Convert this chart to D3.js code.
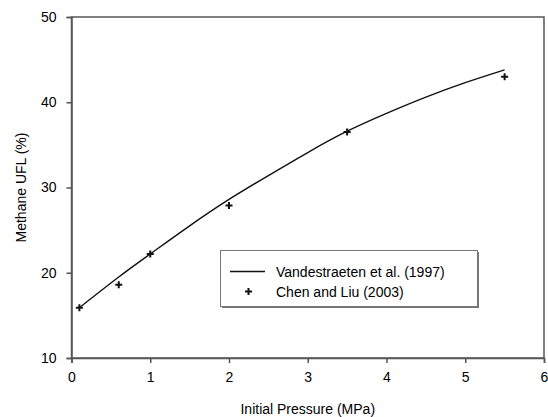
<!DOCTYPE html>
<html>
<head>
<meta charset="utf-8">
<script src="https://cdn.jsdelivr.net/npm/d3@7"></script>
<style>
  body { margin: 0; background: #fff; }
  text { font-family: "Liberation Sans", Arial, sans-serif; fill: #000; }
</style>
</head>
<body>
<script>
// Vandestraeten et al. (1997) correlation
var modelP = [0.1, 0.6, 1.0, 1.5, 2.0, 2.5, 3.0, 3.5, 4.0, 4.5, 5.0, 5.5];
var modelUFL = [15.9, 19.5, 22.2, 25.5, 28.6, 31.4, 34.1, 36.6, 38.7, 40.6, 42.3, 43.8];

// Chen and Liu (2003) measurements
var expP = [0.1, 0.6, 1.0, 2.0, 3.5, 5.5];
var expUFL = [15.9, 18.6, 22.2, 27.9, 36.5, 43.0];

var xTicks = [0, 1, 2, 3, 4, 5, 6];
var yTicks = [10, 20, 30, 40, 50];

var width = 548, height = 417;
var margin = {top: 17, right: 4, bottom: 59, left: 71.5};

var svg = d3.select("body").append("svg")
    .attr("width", width)
    .attr("height", height);

var x = d3.scaleLinear().domain([0, 6]).range([margin.left, width - margin.right]);
var y = d3.scaleLinear().domain([10, 50]).range([height - margin.bottom, margin.top]);

var axisColor = "#555";

// Frame
svg.append("rect")
    .attr("x", x(0))
    .attr("y", y(50))
    .attr("width", x(6) - x(0))
    .attr("height", y(10) - y(50))
    .attr("fill", "none")
    .attr("stroke", axisColor)
    .attr("stroke-width", 1.5);

// Axes
var xAxis = svg.append("g")
    .attr("transform", "translate(0," + y(10) + ")")
    .call(d3.axisBottom(x).tickValues(xTicks).tickSize(5).tickPadding(9).tickFormat(d3.format("d")));

var yAxis = svg.append("g")
    .attr("transform", "translate(" + x(0) + ",0)")
    .call(d3.axisLeft(y).tickValues(yTicks).tickSize(5).tickPadding(10).tickFormat(d3.format("d")));

[xAxis, yAxis].forEach(function(a) {
    a.select(".domain").attr("stroke", axisColor).attr("stroke-width", 1.5);
    a.selectAll(".tick line").attr("stroke", axisColor).attr("stroke-width", 1.5);
    a.selectAll(".tick text")
        .style("font-family", "'Liberation Sans', Arial, sans-serif")
        .style("font-size", "14px")
        .attr("fill", "#000");
});

// Axis titles
svg.append("text")
    .attr("x", (x(0) + x(6)) / 2)
    .attr("y", 414)
    .attr("text-anchor", "middle")
    .style("font-size", "14px")
    .text("Initial Pressure (MPa)");

svg.append("text")
    .attr("transform", "translate(26," + ((y(10) + y(50)) / 2) + ") rotate(-90)")
    .attr("text-anchor", "middle")
    .style("font-size", "14px")
    .text("Methane UFL (%)");

// Model curve
var line = d3.line()
    .x(function(d, i) { return x(modelP[i]); })
    .y(function(d) { return y(d); })
    .curve(d3.curveNatural);

svg.append("path")
    .datum(modelUFL)
    .attr("d", line)
    .attr("fill", "none")
    .attr("stroke", "#111")
    .attr("stroke-width", 1.4);

// Crosses for measured data
function plus(g, px, py) {
    var s = 3.5;
    g.append("path")
        .attr("d", "M" + (px - s) + "," + py + "H" + (px + s) + "M" + px + "," + (py - s) + "V" + (py + s))
        .attr("stroke", "#111")
        .attr("stroke-width", 2)
        .attr("fill", "none");
}

var pts = svg.append("g");
expP.forEach(function(p, i) {
    plus(pts, x(p), y(expUFL[i]));
});

// Legend
var legend = svg.append("g");
legend.append("rect")
    .attr("x", 222)
    .attr("y", 252)
    .attr("width", 257)
    .attr("height", 56)
    .attr("fill", "#777");
legend.append("rect")
    .attr("x", 220.5)
    .attr("y", 250.5)
    .attr("width", 257)
    .attr("height", 56)
    .attr("fill", "#fff")
    .attr("stroke", "#777")
    .attr("stroke-width", 1);

legend.append("line")
    .attr("x1", 230).attr("x2", 265)
    .attr("y1", 271.5).attr("y2", 271.5)
    .attr("stroke", "#111")
    .attr("stroke-width", 1.4);
plus(legend, 248.5, 291.5);

legend.append("text")
    .attr("x", 276)
    .attr("y", 276.5)
    .style("font-size", "14px")
    .text("Vandestraeten et al. (1997)");
legend.append("text")
    .attr("x", 276)
    .attr("y", 296.5)
    .style("font-size", "14px")
    .text("Chen and Liu (2003)");
</script>
</body>
</html>
